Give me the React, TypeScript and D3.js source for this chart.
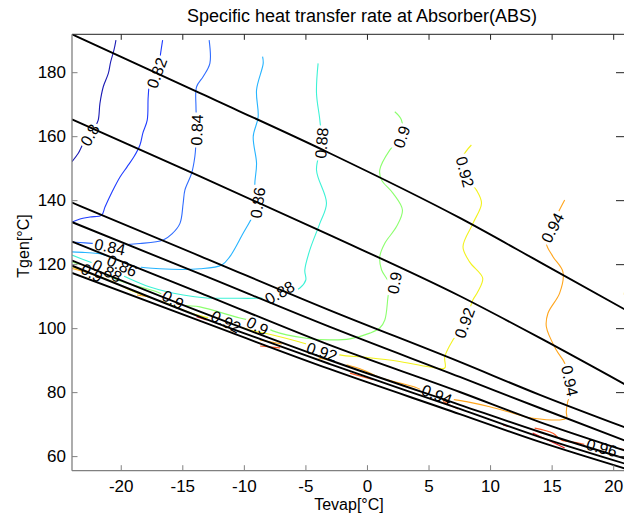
import React from "react";
import * as d3 from "d3";

type P = [number, number];

// ---------- axes ----------
const X_DOMAIN: P = [-24, 21];
const Y_DOMAIN: P = [55.6, 192];
const X_TICKS = [-20, -15, -10, -5, 0, 5, 10, 15, 20];
const Y_TICKS = [60, 80, 100, 120, 140, 160, 180];
const TITLE = "Specific heat transfer rate at Absorber(ABS)";
const X_LABEL = "Tevap[°C]";
const Y_LABEL = "Tgen[°C]";

// ---------- black (unlabelled) contour lines ----------
const BLACK_X = [-24, -13.6, -3.1, 7.5, 14, 21];
const BLACK_1 = [192.0, 173.6, 154.9, 134.6, 120.8, 105.8];
const BLACK_2 = [165.4, 147.6, 129.3, 110.2, 97.1, 82.4];
const BLACK_3 = [139.4, 122.7, 105.8, 89.6, 79.3, 69.0];
const BLACK_4 = [133.3, 117.1, 100.6, 84.9, 75.2, 64.9];
const BLACK_5 = [127.2, 111.2, 94.9, 80.2, 70.8, 61.8];
const BLACK_6 = [121.3, 105.3, 90.2, 76.2, 67.7, 59.3];
const BLACK_7 = [119.7, 103.7, 89.0, 74.9, 66.1, 57.7];
const BLACK_8 = [117.4, 102.4, 87.4, 73.3, 64.6, 56.2];
const BLACK_LINES = [BLACK_1, BLACK_2, BLACK_3, BLACK_4, BLACK_5, BLACK_6, BLACK_7, BLACK_8];

// ---------- coloured contour levels ----------
const LEVELS = [0.8, 0.82, 0.84, 0.86, 0.88, 0.9, 0.92, 0.94, 0.96, 0.98];
const LEVEL_COLORS = ["#1a1ab4", "#1f3cff", "#2f6cff", "#26b4ff", "#3cf2d6", "#8cff6e", "#f2f21e", "#ffa51c", "#ff5a26", "#f01e1e"];

const C080: P[] = [[-20.43,190.2],[-20.59,187.1],[-20.86,183.4],[-21.05,179.8],[-21.46,175.6],[-21.73,170.4],[-21.87,165.2],[-22.13,163.1],[-22.54,160.5],[-23.08,157.9],[-23.49,154.8],[-24,152.2]];
const C082: P[] = [[-16.64,190.2],[-16.8,186.1],[-16.91,182.9],[-17.12,179.8],[-17.67,176.7],[-17.81,172.5],[-17.89,165.2],[-18.24,161.2],[-18.48,157.4],[-18.97,153.7],[-19.54,150.5],[-20.1,147.4],[-20.75,142.7],[-21.32,138.0],[-21.59,135.5],[-22.54,134.9],[-23.35,134.3],[-24,133.3]];
const C084: P[] = [[-12.86,190.2],[-12.8,182.9],[-13.34,178.8],[-13.88,175.6],[-13.93,169.4],[-13.89,165.2],[-13.88,162.1],[-13.93,158.0],[-14.02,153.8],[-14.28,148.6],[-14.83,143.3],[-14.97,139.2],[-15.23,132.9],[-15.88,129.6],[-16.59,127.7],[-18.48,126.6],[-20.1,126.3],[-21.73,126.5],[-22.94,126.8],[-24,127.1]];
const C086: P[] = [[-8.52,185.0],[-8.47,182.9],[-9.01,174.6],[-8.88,166.2],[-9.28,160.0],[-9.01,151.7],[-9.15,144.4],[-8.88,139.2],[-9.41,134.5],[-10.1,129.8],[-11.18,122.5],[-11.83,119.9],[-13.61,118.7],[-16.86,118.7],[-18.89,119.6],[-20.51,121.8],[-21.73,123.4],[-22.94,123.8],[-24,124.0]];
const C088: P[] = [[-4.01,182.9],[-4.14,173.6],[-3.87,165.2],[-3.73,157.9],[-4.14,149.6],[-3.33,139.2],[-3.87,132.9],[-4.68,124.6],[-5.09,118.3],[-5.01,115.2],[-5.49,112.7],[-6.31,111.2],[-7.52,109.9],[-9.01,109.5],[-10.93,109.5],[-13.07,109.6],[-14.97,110.5],[-17.67,113.0],[-19.86,116.5],[-21.24,118.8],[-22.54,120.8],[-24,123.0]];
const C090: P[] = [[2.22,167.8],[2.76,165.2],[2.76,160.0],[1.81,155.8],[1.0,149.6],[1.14,146.5],[2.08,142.3],[2.84,137.1],[2.36,131.9],[1.41,126.7],[1.0,122.5],[1.14,118.4],[1.81,113.7],[1.67,110.0],[1.41,102.7],[1.0,100.2],[0.19,98.6],[-1.43,96.8],[-3.06,96.5],[-4.95,97.0],[-7.69,99.3],[-9.01,102.1],[-10.36,103.3],[-13.61,106.8],[-14.97,107.4],[-15.78,109.0],[-17.13,111.5],[-19.84,114.6],[-21.73,117.7],[-22.94,119.6],[-24,120.8]];
const C092: P[] = [[8.44,157.4],[7.76,153.7],[7.76,148.6],[8.85,143.3],[9.26,139.2],[8.57,132.9],[7.76,125.6],[8.31,120.8],[9.36,115.8],[8.96,111.5],[8.57,109.0],[7.9,101.7],[6.95,96.5],[6.28,91.2],[6.28,87.7],[5.06,88.0],[2.36,89.9],[-0.36,91.1],[-2.25,91.8],[-4.95,95.2],[-7.69,98.0],[-9.55,99.6],[-11.44,102.1],[-13.88,104.3],[-16.31,107.9],[-19.02,111.6],[-20.65,114.6],[-23.35,118.4],[-24,119.4]];
const C094: P[] = [[16.02,140.2],[15.47,136.1],[14.94,131.5],[14.53,126.7],[15.07,122.5],[15.88,117.7],[15.61,111.1],[14.66,104.8],[14.53,100.6],[15.34,93.3],[16.02,89.2],[16.28,84.0],[16.56,80.8],[16.26,77.1],[16.15,74.0],[16.15,72.0],[13.44,72.0],[11.82,73.6],[9.93,75.6],[8.04,77.2],[5.73,78.8],[3.7,81.9],[1.0,84.7],[-0.36,87.1],[-1.7,88.7]];
const C094_A: P[] = [[-24,118.8],[-22.94,117.7],[-21.73,116.2]];
const C094_B: P[] = [[-18.72,110.5],[-17.67,109.9]];
const C094_C: P[] = [[-8.74,96.5],[-6.96,95.2]];
const C094_D: P[] = [[-3.98,90.8],[-3.17,90.2]];
const C096: P[] = [[13.58,68.9],[15.07,67.3],[15.75,65.2],[17.23,64.2],[18.86,62.7],[20.21,62.6],[20.97,62.1]];
const C096_A: P[] = [[-1.43,86.1],[0.46,84.0]];
const C096_B: P[] = [[6.14,77.2],[7.36,74.9]];
const C096_C: P[] = [[-8.72,94.6],[-7.1,94.0]];
const C098_A: P[] = [[11.01,69.9],[11.42,69.4]];
const C098_B: P[] = [[-13.88,103.7],[-13.07,102.7]];
const C098_C: P[] = [[13.42,67.4],[14.64,65.2],[16.02,62.7]];

const CONTOURS: { level: number; pts: P[] }[] = [
  { level: 0.8, pts: C080 }, { level: 0.82, pts: C082 }, { level: 0.84, pts: C084 },
  { level: 0.86, pts: C086 }, { level: 0.88, pts: C088 }, { level: 0.9, pts: C090 },
  { level: 0.92, pts: C092 }, { level: 0.94, pts: C094 }, { level: 0.94, pts: C094_A },
  { level: 0.94, pts: C094_B }, { level: 0.94, pts: C094_C }, { level: 0.94, pts: C094_D },
  { level: 0.96, pts: C096 }, { level: 0.96, pts: C096_A }, { level: 0.96, pts: C096_B },
  { level: 0.96, pts: C096_C }, { level: 0.98, pts: C098_A }, { level: 0.98, pts: C098_B },
  { level: 0.98, pts: C098_C },
];

// contour labels: level, x, y (data units)
const LABEL_LEVEL = [0.8, 0.82, 0.84, 0.86, 0.88, 0.9, 0.92, 0.94, 0.84, 0.86, 0.88, 0.9, 0.9, 0.88, 0.92, 0.9, 0.92, 0.9, 0.92, 0.94, 0.94, 0.96, 0.96];
const LABEL_X = [-22.54, -17.1, -13.85, -8.9, -3.71, 2.79, 7.9, 15.04, -20.92, -19.94, -21.16, -22.38, -15.8, -7.12, -11.5, -8.94, -3.71, 2.22, 7.9, 16.42, 5.63, 19.02, 21.46];
const LABEL_Y = [160.5, 179.9, 162.1, 139.3, 158.0, 159.9, 149.0, 131.5, 125.5, 119.6, 118.0, 117.4, 109.0, 111.2, 102.1, 100.8, 92.7, 114.3, 101.8, 83.7, 79.3, 62.7, 114.3];
const LABEL_ROT = [-60, -70, -88, -82, -85, -72, 75, -62, 12, 25, 28, 30, 30, -30, 27, 28, 18, -80, -70, 78, 22, 15, -80];

// ---------- layout ----------
const W = 624, H = 524;
const PL = 72, PR = 626, PT = 34.3, PB = 470.7;
const FONT = "'Liberation Sans', Arial, Helvetica, sans-serif";
const FS = 16;
const TICK_FS = 17;

function fmt(v: number) {
  return String(+v.toFixed(2));
}
function textW(s: string) {
  let w = 0;
  for (const ch of s) w += ch === "." ? 0.278 : 0.556;
  return w * FS;
}

export default function App() {
  const x = d3.scaleLinear().domain(X_DOMAIN).range([PL, PR]);
  const y = d3.scaleLinear().domain(Y_DOMAIN).range([PB, PT]);
  const smooth = d3.line<P>().x((d) => x(d[0])).y((d) => y(d[1])).curve(d3.curveCatmullRom.alpha(0.5));
  const straight = d3.line<P>().x((d) => x(d[0])).y((d) => y(d[1])).curve(d3.curveMonotoneX);

  const labels = LABEL_LEVEL.map((lv, i) => ({
    level: lv, cx: x(LABEL_X[i]), cy: y(LABEL_Y[i]), rot: LABEL_ROT[i], text: fmt(lv),
  }));

  return (
    <svg width={W} height={H} style={{ position: "absolute", left: 0, top: 0, background: "#fff" }}>
      <defs>
        <clipPath id="plot">
          <rect x={PL} y={PT} width={PR - PL} height={PB - PT} />
        </clipPath>
        {LEVELS.map((lv, li) => (
          <mask id={`m${li}`} key={li} maskUnits="userSpaceOnUse" x={0} y={0} width={W} height={H}>
            <rect x={0} y={0} width={W} height={H} fill="#fff" />
            {labels.filter((l) => l.level === lv).map((l, j) => {
              const tw = textW(l.text) + 4;
              return (
                <rect key={j} x={-tw / 2} y={-8} width={tw} height={16} fill="#000"
                  transform={`translate(${l.cx},${l.cy}) rotate(${l.rot})`} />
              );
            })}
          </mask>
        ))}
      </defs>
      <rect x={0} y={0} width={W} height={H} fill="#fff" />
      <g clipPath="url(#plot)">
        {CONTOURS.map((c, i) => {
          const li = LEVELS.indexOf(c.level);
          return (
            <g key={i} mask={`url(#m${li})`}>
              <path d={smooth(c.pts) || ""} fill="none" stroke={LEVEL_COLORS[li]} strokeWidth={1.1} />
            </g>
          );
        })}
        {BLACK_LINES.map((ys, i) => (
          <path key={i} d={straight(BLACK_X.map((xv, k) => [xv, ys[k]] as P)) || ""}
            fill="none" stroke="#000" strokeWidth={1.9} />
        ))}
        {labels.map((l, i) => (
          <text key={i} transform={`translate(${l.cx},${l.cy}) rotate(${l.rot})`} textAnchor="middle"
            dominantBaseline="central" fontFamily={FONT} fontSize={FS} fill="#000">{l.text}</text>
        ))}
      </g>
      {/* box */}
      <line x1={PL} x2={PR} y1={PT} y2={PT} stroke="#222" strokeWidth={1} />
      <line x1={PR} x2={PR} y1={PT} y2={PB} stroke="#222" strokeWidth={1} />
      <line x1={PL} x2={PR} y1={PB} y2={PB} stroke="#808080" strokeWidth={1.3} />
      <line x1={PL} x2={PL} y1={PT} y2={PB} stroke="#808080" strokeWidth={1.3} />
      {X_TICKS.map((t) => (
        <g key={`xt${t}`}>
          <line x1={x(t)} x2={x(t)} y1={PB} y2={PB - 5.5} stroke="#808080" strokeWidth={1} />
          <line x1={x(t)} x2={x(t)} y1={PT} y2={PT + 5.5} stroke="#222" strokeWidth={1} />
          <text x={x(t)} y={492} textAnchor="middle" fontFamily={FONT} fontSize={TICK_FS} fill="#000">{t}</text>
        </g>
      ))}
      {Y_TICKS.map((t) => (
        <g key={`yt${t}`}>
          <line x1={PL} x2={PL + 5.5} y1={y(t)} y2={y(t)} stroke="#808080" strokeWidth={1} />
          <line x1={PR - 10} x2={PR} y1={y(t)} y2={y(t)} stroke="#222" strokeWidth={1} />
          <text x={66} y={y(t)} textAnchor="end" dominantBaseline="central" fontFamily={FONT} fontSize={TICK_FS} fill="#000">{t}</text>
        </g>
      ))}
      <text x={362} y={22} textAnchor="middle" fontFamily={FONT} fontSize={18} fill="#000">{TITLE}</text>
      <text x={349} y={510} textAnchor="middle" fontFamily={FONT} fontSize={FS} fill="#000">{X_LABEL}</text>
      <text transform={`translate(29,246) rotate(-90)`} textAnchor="middle" fontFamily={FONT} fontSize={FS} fill="#000">{Y_LABEL}</text>
    </svg>
  );
}
